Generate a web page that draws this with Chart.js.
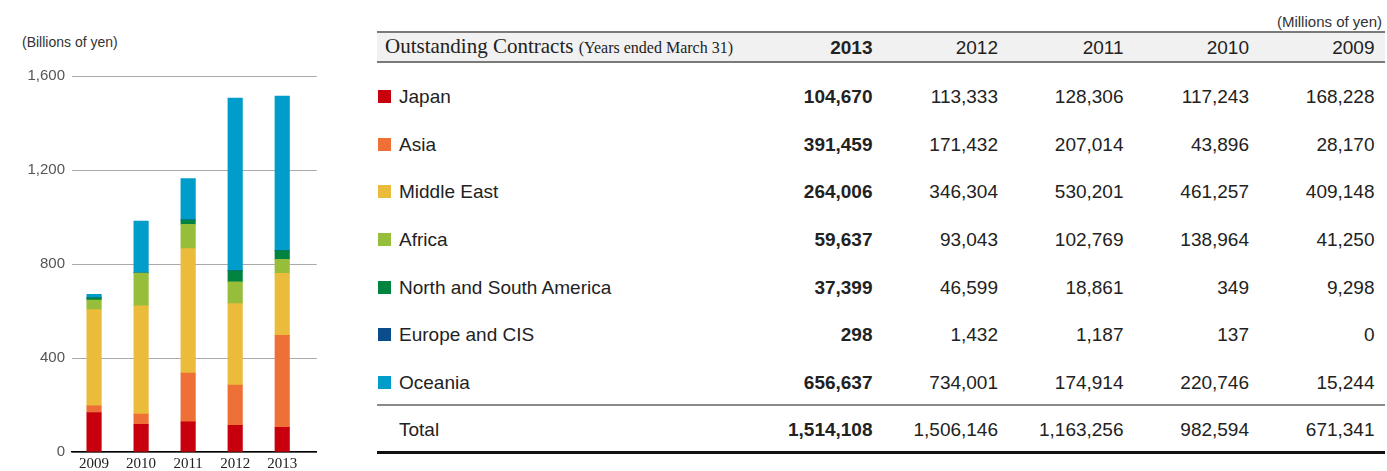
<!DOCTYPE html>
<html>
<head>
<meta charset="utf-8">
<script src="https://cdn.jsdelivr.net/npm/chart.js@4.4.1/dist/chart.umd.min.js"></script>
<style>
html,body{margin:0;padding:0;background:#fff;}
body{width:1387px;height:471px;position:relative;overflow:hidden;font-family:"Liberation Sans",Arial,sans-serif;color:#222;}
#chartBox{position:absolute;left:0;top:0;width:330px;height:471px;}
#unitL{position:absolute;left:22px;top:33px;font-size:14px;line-height:18px;color:#333;white-space:nowrap;}
#unitR{position:absolute;right:5px;top:12px;font-size:15px;line-height:19px;color:#333;white-space:nowrap;}
.hband{position:absolute;left:377px;width:1008px;top:31px;height:28px;background:#f1f1f1;border-top:2px solid #7a7a7a;border-bottom:2px solid #7a7a7a;}
.row{position:absolute;left:377px;width:1008px;display:grid;grid-template-columns:379.5px repeat(5,125.5px);align-items:center;}
.cell{font-size:19px;line-height:19px;text-align:right;padding-right:9.5px;white-space:nowrap;color:#222;}
.lab{display:flex;align-items:center;padding-left:1px;font-size:19px;line-height:19px;color:#222;white-space:nowrap;}
.sq{width:13px;height:13px;margin-right:8px;flex:none;}
.b{font-weight:bold;}
.htitle{font-family:"Liberation Serif","Times New Roman",serif;font-size:21px;line-height:21px;padding-left:8px;color:#222;white-space:nowrap;}
.htitle span{font-size:16px;}
.sep{position:absolute;left:377px;width:1008px;top:404px;height:2px;background:#8a8a8a;}
.bot{position:absolute;left:377px;width:1008px;top:451px;height:3px;background:#111;}
</style>
</head>
<body>
<div id="unitL">(Billions of yen)</div>
<div id="chartBox"><canvas id="c" width="330" height="471"></canvas></div>
<div id="unitR">(Millions of yen)</div>
<div class="hband"></div>
<div id="table"></div>
<div class="sep"></div>
<div class="bot"></div>
<script>
// ---- Data (millions of yen), chronological order ----
const years = ['2009', '2010', '2011', '2012', '2013'];
const regionNames = ['Japan', 'Asia', 'Middle East', 'Africa', 'North and South America', 'Europe and CIS', 'Oceania'];
const regionColors = ['#c8000d', '#ee7036', '#ebbb3b', '#96be3b', '#00843f', '#0b4d8c', '#009cca'];
const japan      = [168228, 117243, 128306, 113333, 104670];
const asia       = [28170, 43896, 207014, 171432, 391459];
const middleEast = [409148, 461257, 530201, 346304, 264006];
const africa     = [41250, 138964, 102769, 93043, 59637];
const americas   = [9298, 349, 18861, 46599, 37399];
const europeCIS  = [0, 137, 1187, 1432, 298];
const oceania    = [15244, 220746, 174914, 734001, 656637];
const totals     = [671341, 982594, 1163256, 1506146, 1514108];
const yTicks     = [0, 400, 800, 1200, 1600];
const tableTitle = 'Outstanding Contracts';
const tableSub   = '(Years ended March 31)';

const seriesValues = [japan, asia, middleEast, africa, americas, europeCIS, oceania];
const fmt = v => v.toLocaleString('en-US');

// ---- Chart (billions of yen) ----
const datasets = seriesValues.map((vals, k) => ({
  label: regionNames[k],
  data: vals.map((v, i) => ({ x: i, y: v / 1000 })),
  backgroundColor: regionColors[k],
  borderWidth: 0,
  barThickness: 14.5
}));

new Chart(document.getElementById('c'), {
  type: 'bar',
  data: { datasets },
  options: {
    responsive: false,
    animation: false,
    devicePixelRatio: 1,
    layout: { padding: { left: 0, right: 13.3, top: 76, bottom: 0 } },
    plugins: { legend: { display: false }, tooltip: { enabled: false } },
    scales: {
      x: {
        type: 'linear', stacked: true, offset: false, min: -0.469, max: 4.733,
        afterFit: s => { s.height = 19; },
        grid: { display: true, offset: false, drawOnChartArea: false, drawTicks: false },
        border: { display: true, color: '#000', width: 1.5 },
        ticks: {
          stepSize: 1, includeBounds: false, autoSkip: false, maxRotation: 0, padding: 3,
          font: { family: 'Liberation Serif', size: 15 }, color: '#222',
          callback: v => Number.isInteger(v) ? years[v] : ''
        }
      },
      y: {
        stacked: true, min: yTicks[0], max: yTicks[yTicks.length - 1],
        afterFit: s => { s.width = 72; },
        afterBuildTicks: s => { s.ticks = yTicks.map(v => ({ value: v })); },
        grid: { color: '#aaaaaa', lineWidth: 1, drawTicks: false },
        border: { display: false },
        ticks: {
          padding: 7, font: { family: 'Liberation Sans', size: 15 }, color: '#555',
          callback: v => fmt(v)
        }
      }
    }
  }
});

// ---- Table ----
const table = document.getElementById('table');
const order = [4, 3, 2, 1, 0]; // 2013 first
function makeRow(top, height, labelHTML, values) {
  const r = document.createElement('div');
  r.className = 'row';
  r.style.top = top + 'px';
  r.style.height = height + 'px';
  r.innerHTML = labelHTML + order.map((idx, j) =>
    '<div class="cell' + (j === 0 ? ' b' : '') + '">' + values[idx] + '</div>').join('');
  table.appendChild(r);
}
makeRow(31, 32, '<div class="htitle">' + tableTitle + ' <span>' + tableSub + '</span></div>', years);
const rowH = 47.6, row0 = 96.7;
regionNames.forEach((name, k) => {
  const c = row0 + k * rowH;
  makeRow(c - rowH / 2, rowH,
    '<div class="lab"><div class="sq" style="background:' + regionColors[k] + '"></div>' + name + '</div>',
    seriesValues[k].map(fmt));
});
makeRow(row0 + 7 * rowH - rowH / 2, rowH, '<div class="lab" style="padding-left:22px">Total</div>', totals.map(fmt));
</script>
</body>
</html>
